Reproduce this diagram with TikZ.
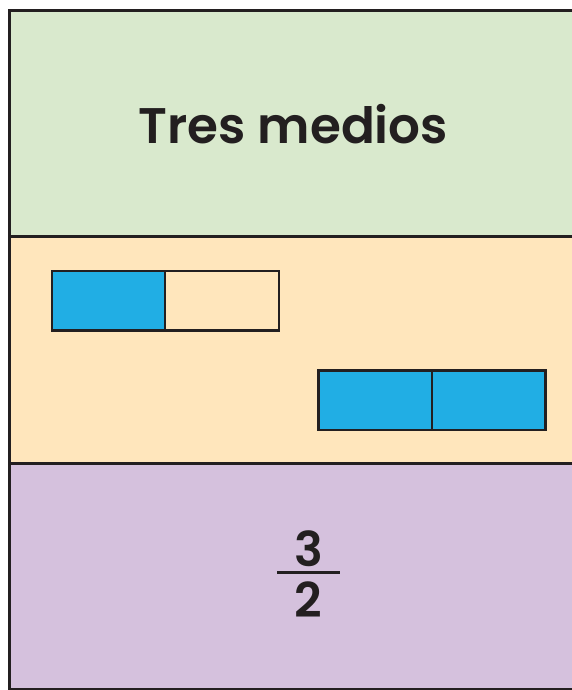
\documentclass[tikz,border=0pt]{standalone}
\usepackage{fontspec}
\setmainfont{Poppins}[BoldFont={* SemiBold}]
\definecolor{panelgreen}{HTML}{D9E9CD}
\definecolor{panelorange}{HTML}{FFE6BC}
\definecolor{panelpurple}{HTML}{D5C1DD}
\definecolor{partblue}{HTML}{21AEE4}
\definecolor{inkdark}{HTML}{231F20}

\begin{document}
\begin{tikzpicture}[x=1pt,y=-1pt,line join=miter]
\useasboundingbox (0,0) rectangle (571,690);
% panels
\fill[panelgreen] (9.7,10.3) rectangle (580,236.3);
\fill[panelorange] (9.7,236.3) rectangle (580,463.3);
\fill[panelpurple] (9.7,463.3) rectangle (580,689.5);
\draw[inkdark,line width=2.7pt] (580,10.3) -- (9.7,10.3) -- (9.7,689.5) -- (580,689.5);
\draw[inkdark,line width=2.7pt] (9.7,236.3) -- (580,236.3);
\draw[inkdark,line width=2.7pt] (9.7,463.3) -- (580,463.3);
% one half shaded
\fill[partblue] (52.2,271.2) rectangle (165.2,330.5);
\draw[inkdark,line width=2.4pt] (52.2,271.2) rectangle (278.7,330.5);
\draw[inkdark,line width=2.4pt] (165.2,271.2) -- (165.2,330.5);
% two halves shaded
\fill[partblue] (318.5,370.3) rectangle (545.3,430.2);
\draw[inkdark,line width=2.4pt] (318.5,370.3) rectangle (545.3,430.2);
\draw[inkdark,line width=2.4pt] (431.8,370.3) -- (431.8,430.2);
% labels
\node[anchor=base,inner sep=0pt,text=inkdark,font=\fontsize{50}{58}\selectfont\bfseries] (title) at (293.4,143.3) {Tres medios};
\node[anchor=base,inner sep=0pt,text=inkdark,font=\fontsize{48}{56}\selectfont\bfseries] (num) at (308.7,566.7) {3};
\node[anchor=base,inner sep=0pt,text=inkdark,font=\fontsize{48}{56}\selectfont\bfseries] (den) at (308.7,617.7) {2};
\draw[inkdark,line width=2.7pt] (277.3,572.7) -- (340,572.7);
\end{tikzpicture}
\end{document}
